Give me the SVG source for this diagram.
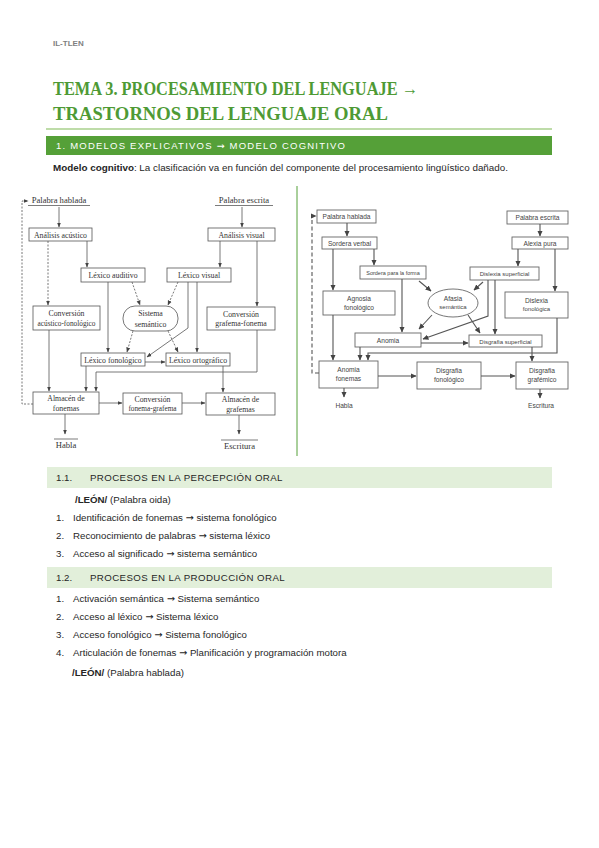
<svg xmlns="http://www.w3.org/2000/svg" width="599" height="848" viewBox="0 0 599 848">
<defs>
<marker id="la" viewBox="0 0 10 10" refX="9" refY="5" markerWidth="5" markerHeight="5" markerUnits="userSpaceOnUse" orient="auto"><path d="M0,1 L10,5 L0,9 z" fill="#444"/></marker>
<marker id="ra" viewBox="0 0 10 10" refX="9" refY="5" markerWidth="6" markerHeight="6" markerUnits="userSpaceOnUse" orient="auto"><path d="M0,0.5 L10,5 L0,9.5 z" fill="#444"/></marker>
</defs>
<style>
.t{font-family:"Liberation Sans",Arial,sans-serif;font-size:9.7px;fill:#262626}
.b{font-weight:bold}
.ar{font-family:"DejaVu Sans",sans-serif}
.lt{font-family:"Liberation Serif","Times New Roman",serif;font-size:7.8px;fill:#333;text-anchor:middle}
.lb{fill:#fff;stroke:#555;stroke-width:0.8}
.rt{font-family:"Liberation Sans",Arial,sans-serif;font-size:6.6px;fill:#444;text-anchor:middle}
.rb{fill:#fff;stroke:#666;stroke-width:0.9}
.lc{fill:none;stroke:#555;stroke-width:0.8;marker-end:url(#la)}
.ld{stroke-dasharray:2 1.5}
.rc{fill:none;stroke:#555;stroke-width:1.1;marker-end:url(#ra)}
.rd{stroke-dasharray:4 2.5}
.ul{stroke:#444;stroke-width:0.7}
.ti{font-family:"Liberation Serif","Times New Roman",serif;font-size:19px;font-weight:bold;fill:#4E9A34}
</style>
<rect width="599" height="848" fill="#fff"/>

<g id="header">
<text x="53" y="46" font-family="Liberation Sans,Arial,sans-serif" font-size="8px" font-weight="bold" fill="#7f7f7f">IL-TLEN</text>
<text class="ti" x="53" y="95" textLength="365" lengthAdjust="spacingAndGlyphs">TEMA 3. PROCESAMIENTO DEL LENGUAJE →</text>
<text class="ti" x="53" y="120" textLength="335" lengthAdjust="spacingAndGlyphs">TRASTORNOS DEL LENGUAJE ORAL</text>
<line x1="46" y1="129" x2="552" y2="129" stroke="#A8D08D" stroke-width="1.5"/>
<rect x="46" y="136" width="506" height="19" fill="#55A038"/>
<text x="56" y="149" font-family="Liberation Sans,Arial,sans-serif" font-size="9.5px" fill="#fff" textLength="289" lengthAdjust="spacing">1.  MODELOS EXPLICATIVOS <tspan class="ar">→</tspan> MODELO COGNITIVO</text>
<text class="t" x="53" y="171" textLength="455" lengthAdjust="spacingAndGlyphs"><tspan class="b">Modelo cognitivo</tspan>: La clasificación va en función del componente del procesamiento lingüístico dañado.</text>
<line x1="297" y1="186" x2="297" y2="456" stroke="#55A038" stroke-width="1"/>
</g>

<!-- LEFT DIAGRAM -->
<g id="left-nodes">
<g id="l-palabra-hablada"><text class="lt" x="59" y="202.5" style="font-size:8.6px">Palabra hablada</text><line class="ul" x1="28" y1="205.5" x2="90" y2="205.5"/></g>
<g id="l-palabra-escrita"><text class="lt" x="244" y="202.5" style="font-size:8.6px">Palabra escrita</text><line class="ul" x1="215" y1="205.5" x2="273" y2="205.5"/></g>
<g id="l-analisis-acustico"><rect class="lb" x="29" y="228" width="63" height="13"/><text class="lt" x="60.5" y="237.5">Análisis acústico</text></g>
<g id="l-analisis-visual"><rect class="lb" x="208" y="228" width="67" height="13"/><text class="lt" x="241.5" y="237.5">Análisis visual</text></g>
<g id="l-lexico-auditivo"><rect class="lb" x="81" y="268" width="64" height="14"/><text class="lt" x="113" y="278">Léxico auditivo</text></g>
<g id="l-lexico-visual"><rect class="lb" x="167" y="268" width="64" height="14"/><text class="lt" x="199" y="278">Léxico visual</text></g>
<g id="l-conv-af"><rect class="lb" x="33" y="306" width="67" height="24"/><text class="lt" x="66.5" y="316">Conversión</text><text class="lt" x="66.5" y="326" style="font-size:7.3px">acústico-fonológico</text></g>
<g id="l-sistema-semantico"><rect class="lb" x="123" y="306" width="55" height="25" rx="12" ry="12"/><text class="lt" x="150.5" y="316">Sistema</text><text class="lt" x="150.5" y="326.5">semántico</text></g>
<g id="l-conv-gf"><rect class="lb" x="207" y="307" width="68" height="23"/><text class="lt" x="241" y="316.5">Conversión</text><text class="lt" x="241" y="326">grafema-fonema</text></g>
<g id="l-lexico-fonologico"><rect class="lb" x="81" y="353" width="64" height="13"/><text class="lt" x="113" y="362.5">Léxico fonológico</text></g>
<g id="l-lexico-ortografico"><rect class="lb" x="166" y="353" width="64" height="13"/><text class="lt" x="198" y="362.5">Léxico ortográfico</text></g>
<g id="l-almacen-fonemas"><rect class="lb" x="33" y="392" width="66" height="22"/><text class="lt" x="66" y="401">Almacén de</text><text class="lt" x="66" y="410.5">fonemas</text></g>
<g id="l-conv-fg"><rect class="lb" x="123" y="393" width="59" height="21"/><text class="lt" x="152.5" y="401.5">Conversión</text><text class="lt" x="152.5" y="411" style="font-size:7.3px">fonema-grafema</text></g>
<g id="l-almacen-grafemas"><rect class="lb" x="206" y="393" width="69" height="22"/><text class="lt" x="240.5" y="402">Almacén de</text><text class="lt" x="240.5" y="411.5">grafemas</text></g>
<g id="l-habla"><line class="ul" x1="54" y1="439" x2="78" y2="439"/><text class="lt" x="66" y="447.5" style="font-size:8.6px">Habla</text></g>
<g id="l-escritura"><line class="ul" x1="221" y1="440" x2="258" y2="440"/><text class="lt" x="239.5" y="448.5" style="font-size:8.6px">Escritura</text></g>
</g>

<g id="left-connectors">
<path class="lc" d="M59,207 V227"/>
<path class="lc" d="M87,241 V267"/>
<path class="lc ld" d="M48,241 V305"/>
<path class="lc" d="M108,282 V352"/>
<path class="lc ld" d="M132,282 L140,305"/>
<path class="lc" d="M242,207 V227"/>
<path class="lc" d="M220,241 V267"/>
<path class="lc" d="M257,241 V306"/>
<path class="lc ld" d="M178,282 L168,305"/>
<path class="lc" d="M188,282 V328 L147,357"/>
<path class="lc" d="M197,282 V352"/>
<path class="lc ld" d="M133,331 L127,352"/>
<path class="lc ld" d="M168,331 L178,352"/>
<path class="lc" d="M145,362 H165"/>
<path class="lc" d="M49,330 V391"/>
<path class="lc" d="M86,366 V391"/>
<path class="lc" d="M257,330 V372 H96 V391"/>
<path class="lc" d="M223,366 V392"/>
<path class="lc" d="M99,403 H122"/>
<path class="lc" d="M182,403 H205"/>
<path class="lc" d="M65,414 V434"/>
<path class="lc" d="M239,415 V434"/>
<path class="lc ld" d="M33,404 H22 V201 H28"/>
</g>

<!-- RIGHT DIAGRAM -->
<g id="right-nodes">
<g id="r-palabra-hablada"><rect class="rb" x="317" y="210" width="59" height="13"/><text class="rt" x="346.5" y="219">Palabra hablada</text></g>
<g id="r-sordera-verbal"><rect class="rb" x="322" y="237" width="55" height="12"/><text class="rt" x="349.5" y="245.5">Sordera verbal</text></g>
<g id="r-sordera-forma"><rect class="rb" x="360" y="266" width="66" height="13"/><text class="rt" x="393" y="274.5" style="font-size:5.5px">Sordera para la forma</text></g>
<g id="r-palabra-escrita"><rect class="rb" x="507" y="211" width="61" height="13"/><text class="rt" x="537.5" y="220">Palabra escrita</text></g>
<g id="r-alexia"><rect class="rb" x="512" y="237" width="56" height="12"/><text class="rt" x="540" y="245.5">Alexia pura</text></g>
<g id="r-dislexia-sup"><rect class="rb" x="470" y="267" width="69" height="13"/><text class="rt" x="504.5" y="275.5" style="font-size:6px">Dislexia superficial</text></g>
<g id="r-agnosia"><rect class="rb" x="323" y="291" width="72" height="24"/><text class="rt" x="359" y="301">Agnosia</text><text class="rt" x="359" y="309.5">fonológico</text></g>
<g id="r-afasia"><ellipse class="rb" cx="453" cy="303" rx="25" ry="14"/><text class="rt" x="453" y="301">Afasia</text><text class="rt" x="453" y="309" style="font-size:6px">semántica</text></g>
<g id="r-dislexia-fon"><rect class="rb" x="505" y="292" width="63" height="26"/><text class="rt" x="536.5" y="302.5">Dislexia</text><text class="rt" x="536.5" y="311" style="font-size:6px">fonológica</text></g>
<g id="r-anomia"><rect class="rb" x="355" y="333" width="66" height="14"/><text class="rt" x="388" y="342.5">Anomia</text></g>
<g id="r-disgrafia-sup"><rect class="rb" x="469" y="335" width="73" height="12"/><text class="rt" x="505.5" y="343.5" style="font-size:6px">Disgrafia superficial</text></g>
<g id="r-anomia-fonemas"><rect class="rb" x="319" y="361" width="59" height="27"/><text class="rt" x="348.5" y="372">Anomia</text><text class="rt" x="348.5" y="380.5">fonemas</text></g>
<g id="r-disgrafia-fon"><rect class="rb" x="417" y="362" width="64" height="27"/><text class="rt" x="449" y="373">Disgrafia</text><text class="rt" x="449" y="381.5">fonológico</text></g>
<g id="r-disgrafia-graf"><rect class="rb" x="516" y="362" width="52" height="27"/><text class="rt" x="542" y="373">Disgrafia</text><text class="rt" x="542" y="381.5">grafémico</text></g>
<g id="r-habla"><text class="rt" x="344" y="408">Habla</text></g>
<g id="r-escritura"><text class="rt" x="541" y="408">Escritura</text></g>
</g>

<g id="right-connectors">
<path class="rc" d="M347,223 V236"/>
<path class="rc" d="M374,249 V265"/>
<path class="rc" d="M333,249 V290"/>
<path class="rc" d="M402,279 V332"/>
<path class="rc" d="M419,281 L431,291"/>
<path class="rc" d="M540,224 V236"/>
<path class="rc" d="M518,249 V266"/>
<path class="rc" d="M555,249 V291"/>
<path class="rc" d="M483,282 L474,290"/>
<path class="rc" d="M495,280 V334"/>
<path class="rc" d="M488,280 V316 L423,339"/>
<path class="rc" d="M432,315 L419,329"/>
<path class="rc" d="M468,315 L480,333"/>
<path class="rc" d="M333,315 V360"/>
<path class="rc" d="M360,347 V360"/>
<path class="rc" d="M557,318 V353 H368 V360"/>
<path class="rc" d="M421,343 H468"/>
<path class="rc" d="M532,347 V361"/>
<path class="rc" d="M378,376 H416"/>
<path class="rc" d="M481,376 H515"/>
<path class="rc" d="M344,388 V397"/>
<path class="rc" d="M540,389 V398"/>
<path class="rc rd" d="M319,373 H312 V216 H316"/>
</g>

<g id="body">
<rect x="47" y="467" width="505" height="21" fill="#E2EFDA"/>
<text class="t" x="56" y="481">1.1.</text>
<text class="t" x="90" y="481" letter-spacing="0.4">PROCESOS EN LA PERCEPCIÓN ORAL</text>
<text class="t" x="75" y="503"><tspan class="b">/LEÓN/</tspan>  (Palabra oida)</text>
<text class="t" x="56" y="521">1.</text><text class="t" x="73" y="521">Identificación de fonemas <tspan class="ar">→</tspan> sistema fonológico</text>
<text class="t" x="56" y="539">2.</text><text class="t" x="73" y="539">Reconocimiento de palabras <tspan class="ar">→</tspan> sistema léxico</text>
<text class="t" x="56" y="557">3.</text><text class="t" x="73" y="557">Acceso al significado <tspan class="ar">→</tspan> sistema semántico</text>
<rect x="47" y="567" width="505" height="21" fill="#E2EFDA"/>
<text class="t" x="56" y="581">1.2.</text>
<text class="t" x="90" y="581" letter-spacing="0.4">PROCESOS EN LA PRODUCCIÓN ORAL</text>
<text class="t" x="56" y="602">1.</text><text class="t" x="73" y="602">Activación semántica <tspan class="ar">→</tspan> Sistema semántico</text>
<text class="t" x="56" y="620">2.</text><text class="t" x="73" y="620">Acceso al léxico <tspan class="ar">→</tspan> Sistema léxico</text>
<text class="t" x="56" y="638">3.</text><text class="t" x="73" y="638">Acceso fonológico <tspan class="ar">→</tspan> Sistema fonológico</text>
<text class="t" x="56" y="656">4.</text><text class="t" x="73" y="656">Articulación de fonemas <tspan class="ar">→</tspan> Planificación y programación motora</text>
<text class="t" x="72" y="676"><tspan class="b">/LEÓN/</tspan>  (Palabra hablada)</text>
</g>
</svg>
